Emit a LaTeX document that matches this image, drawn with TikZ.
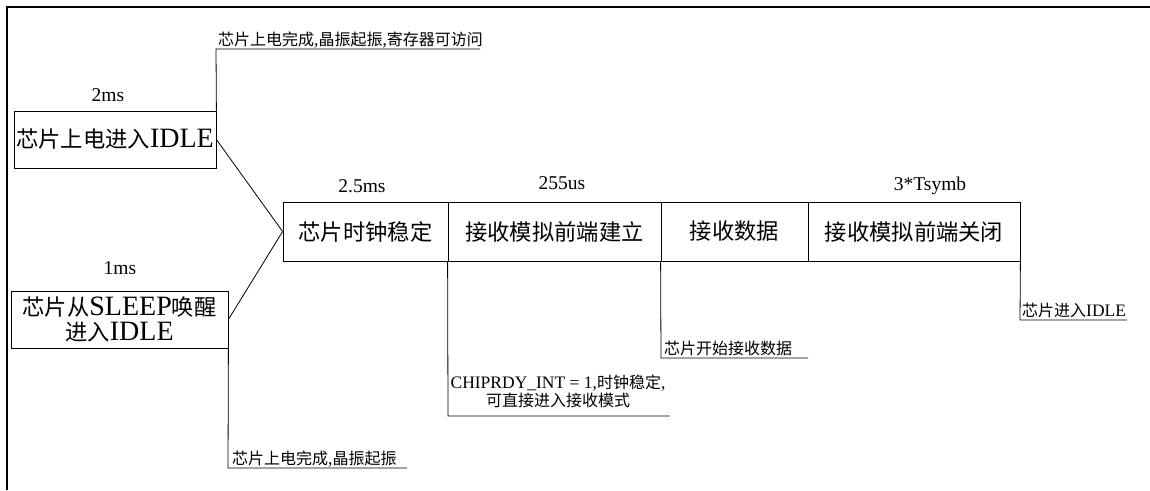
\documentclass[tikz,border=0pt]{standalone}
\usepackage{fontspec}
\setmainfont{Liberation Serif}
\newfontfamily\cjk{Noto Sans CJK SC}
\newcommand\zBc[1]{{\cjk\fontsize{22.3pt}{25pt}\selectfont #1}}
\newcommand\zBl[1]{{\fontsize{28pt}{25pt}\selectfont #1}}
\newcommand\zSc[1]{{\cjk\fontsize{16pt}{18pt}\selectfont #1}}
\newcommand\zSl[1]{{\fontsize{17.5pt}{18pt}\selectfont #1}}
\tikzset{
  box/.style={draw, line width=0.8pt, inner sep=0pt, minimum height=57pt,
    font=\fontsize{22pt}{25pt}\selectfont, align=center},
  rowbox/.style={box, minimum height=59pt},
  tlabel/.style={font=\fontsize{19.5pt}{22pt}\selectfont, anchor=base, inner sep=0pt},
  note/.style={anchor=base west, inner sep=0pt},
  conn/.style={line width=0.8pt},
  frame/.style={line width=1.6pt}
}
\begin{document}
\begin{tikzpicture}[x=1pt,y=-1pt]
\useasboundingbox (0,0) rectangle (1150,490);
\coordinate (fa) at (7,490);
\coordinate (fb) at (7,7);
\coordinate (fc) at (1150,7);
\draw[frame] (fa) -- (fb) -- (fc);

% boxes
\node[box, minimum width=202pt] (b1) at (115,139.5) {\zBc{芯片上电进入}\zBl{IDLE}};
\node[box, minimum width=217pt] (b2) at (119.5,319.5) {\zBc{芯片从}\zBl{SLEEP}\zBc{唤醒}\\\zBc{进入}\zBl{IDLE}};
\node[rowbox, minimum width=165pt] (b3) at (365.5,231.5) {\zBc{芯片时钟稳定}};
\node[rowbox, minimum width=213pt] (b4) at (554.5,231.5) {\zBc{接收模拟前端建立}};
\node[rowbox, minimum width=147pt] (b5) at (734.5,231.5) {\zBc{接收数据}};
\node[rowbox, minimum width=212pt] (b6) at (914,231.5) {\zBc{接收模拟前端关闭}};

% time labels
\node[tlabel] (t1) at (108,101) {2ms};
\node[tlabel] (t2) at (120,274) {1ms};
\node[tlabel] (t3) at (362,192) {2.5ms};
\node[tlabel] (t4) at (562,189) {255us};
\node[tlabel] (t5) at (930,190) {3*Tsymb};

% merging lines
\draw[conn] (b1.east) -- (b3.west);
\draw[conn] (b2.east) -- (b3.west);

% event markers
\coordinate (c1a) at (216,49);
\coordinate (c1b) at (480,49);
\draw[conn] (b1.north east) -- (c1a) -- (c1b);
\node[note] (n1) at (218,45.5) {\zSc{芯片上电完成}\zSl{,}\zSc{晶振起振}\zSl{,}\zSc{寄存器可访问}};

\coordinate (c2a) at (228,468);
\coordinate (c2b) at (407,468);
\draw[conn] (b2.south east) -- (c2a) -- (c2b);
\node[note] (n2) at (232,464) {\zSc{芯片上电完成}\zSl{,}\zSc{晶振起振}};

\coordinate (c3a) at (448,416);
\coordinate (c3b) at (670,416);
\draw[conn] (b4.south west) -- (c3a) -- (c3b);
\node[inner sep=0pt, align=center, font=\fontsize{17.5pt}{18pt}\selectfont] (n3) at (558,391)
  {\zSl{CHIPRDY\_INT = 1,}\zSc{时钟稳定}\zSl{,}\\\zSc{可直接进入接收模式}};

\coordinate (c4a) at (661,358);
\coordinate (c4b) at (808,358);
\draw[conn] (b5.south west) -- (c4a) -- (c4b);
\node[note] (n4) at (664,354) {\zSc{芯片开始接收数据}};

\coordinate (c5a) at (1020,320);
\coordinate (c5b) at (1127,320);
\draw[conn] (b6.south east) -- (c5a) -- (c5b);
\node[note] (n5) at (1022,316) {\zSc{芯片进入}\zSl{IDLE}};
\end{tikzpicture}
\end{document}
